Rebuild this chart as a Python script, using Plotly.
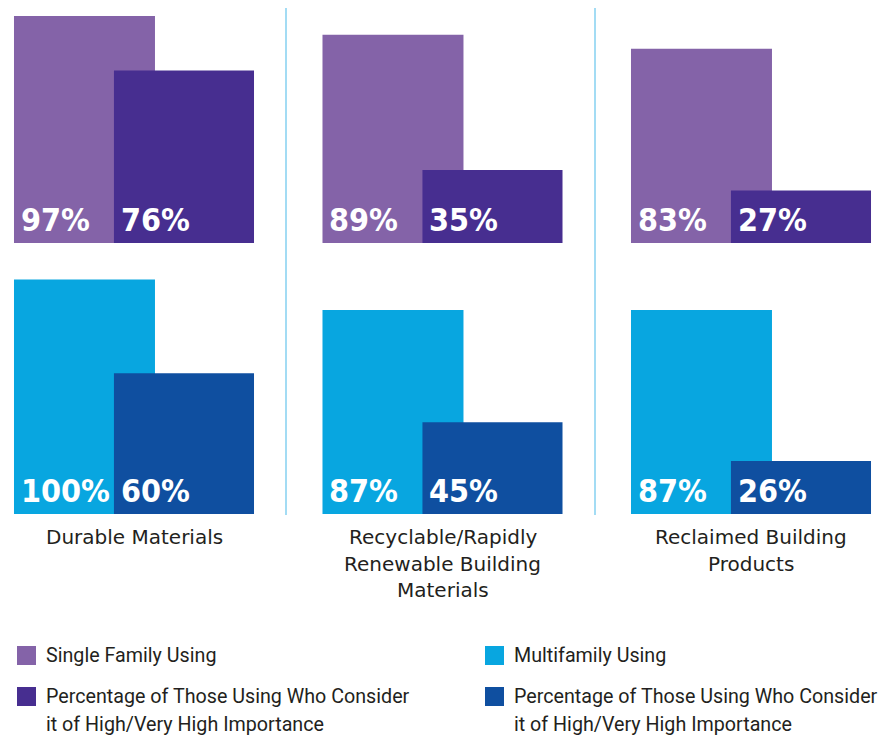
import plotly.graph_objects as go

# ---- data ----
categories = ["Durable Materials", "Recyclable/Rapidly\nRenewable Building\nMaterials", "Reclaimed Building\nProducts"]
single_family_using = [97, 89, 83]
single_family_high_importance = [76, 35, 27]
multifamily_using = [100, 87, 87]
multifamily_high_importance = [60, 45, 26]
legend_labels = ["Single Family Using",
                 "Percentage of Those Using Who Consider\nit of High/Very High Importance",
                 "Multifamily Using",
                 "Percentage of Those Using Who Consider\nit of High/Very High Importance"]

# ---- styles ----
C_SF = "#8463a8"
C_SF_HI = "#472e90"
C_MF = "#08a6e0"
C_MF_HI = "#0f4fa0"
W, H = 890, 736
PG = 8  # page body margin offset
PCT_FONT = dict(family="DejaVu Sans Condensed, DejaVu Sans", size=32, color="white", weight="bold")
LBL_FONT = dict(family="DejaVu Sans", size=20, color="#231f20")
LEG_FONT = dict(family="Roboto", size=19.7, color="#231f20")


def py(p):
    return (H - (p - PG)) / H


def px(p):
    return (p - PG) / W


xs = list(range(len(categories)))
L_OFF, L_W = -0.389, 0.457
D_OFF, D_W = -0.065, 0.454

sf_hi_h = [u * p / 100 for u, p in zip(single_family_using, single_family_high_importance)]
mf_hi_h = [u * p / 100 for u, p in zip(multifamily_using, multifamily_high_importance)]

fig = go.Figure()
fig.add_bar(x=xs, y=single_family_using, offset=L_OFF, width=L_W, marker=dict(color=C_SF, line_width=0),
            xaxis="x", yaxis="y", hoverinfo="skip")
fig.add_bar(x=xs, y=sf_hi_h, offset=D_OFF, width=D_W, marker=dict(color=C_SF_HI, line_width=0),
            xaxis="x", yaxis="y", hoverinfo="skip")
fig.add_bar(x=xs, y=multifamily_using, offset=L_OFF, width=L_W, marker=dict(color=C_MF, line_width=0),
            xaxis="x2", yaxis="y2", hoverinfo="skip")
fig.add_bar(x=xs, y=mf_hi_h, offset=D_OFF, width=D_W, marker=dict(color=C_MF_HI, line_width=0),
            xaxis="x2", yaxis="y2", hoverinfo="skip")

ann = []
for i in xs:
    for xr, yr, off, val in [("x", "y", L_OFF, single_family_using[i]),
                             ("x", "y", D_OFF, single_family_high_importance[i]),
                             ("x2", "y2", L_OFF, multifamily_using[i]),
                             ("x2", "y2", D_OFF, multifamily_high_importance[i])]:
        ann.append(dict(x=i + off, y=0, xref=xr, yref=yr, text=f"{val}%", showarrow=False,
                        xanchor="left", yanchor="bottom", xshift=5, yshift=2, font=PCT_FONT))
    # category labels
    for k, line in enumerate(categories[i].split("\n")):
        ann.append(dict(x=i, y=py(537 + 26.5 * k), xref="x2", yref="paper", text=line,
                        showarrow=False, xanchor="center", yanchor="middle", font=LBL_FONT))

# legend (manual)
leg_pos = [(17, 646, C_SF), (17, 687, C_SF_HI), (485, 646, C_MF), (485, 687, C_MF_HI)]
shapes = []
for (lx, ly, col), lab in zip(leg_pos, legend_labels):
    shapes.append(dict(type="rect", xref="paper", yref="paper", x0=px(lx), x1=px(lx + 19),
                       y0=py(ly), y1=py(ly + 19), fillcolor=col, line_width=0))
    for k, line in enumerate(lab.split("\n")):
        ann.append(dict(x=px(lx + 27), y=py(ly + 9 + 28 * k), xref="paper", yref="paper",
                        text=line, showarrow=False, xanchor="left", yanchor="middle", font=LEG_FONT))

# separators
for sx in [286, 595]:
    shapes.append(dict(type="line", xref="paper", yref="paper", x0=px(sx), x1=px(sx),
                       y0=py(8), y1=py(515), line=dict(color="#a3dcf4", width=2)))

c0 = 134 - PG
xr = [-c0 / 308.5, (W - c0) / 308.5]
fig.update_layout(
    width=W, height=H, margin=dict(l=0, r=0, t=0, b=0),
    paper_bgcolor="white", plot_bgcolor="white", barmode="overlay", showlegend=False,
    xaxis=dict(domain=[0, 1], range=xr, visible=False, fixedrange=True),
    xaxis2=dict(domain=[0, 1], range=xr, visible=False, anchor="y2", fixedrange=True),
    yaxis=dict(domain=[py(243), 1], range=[0, (243 - PG) / 2.34], visible=False, fixedrange=True),
    yaxis2=dict(domain=[py(514), py(270)], range=[0, 244 / 2.345], visible=False,
                anchor="x2", fixedrange=True),
    annotations=ann, shapes=shapes,
)
fig.write_html("out.html")
